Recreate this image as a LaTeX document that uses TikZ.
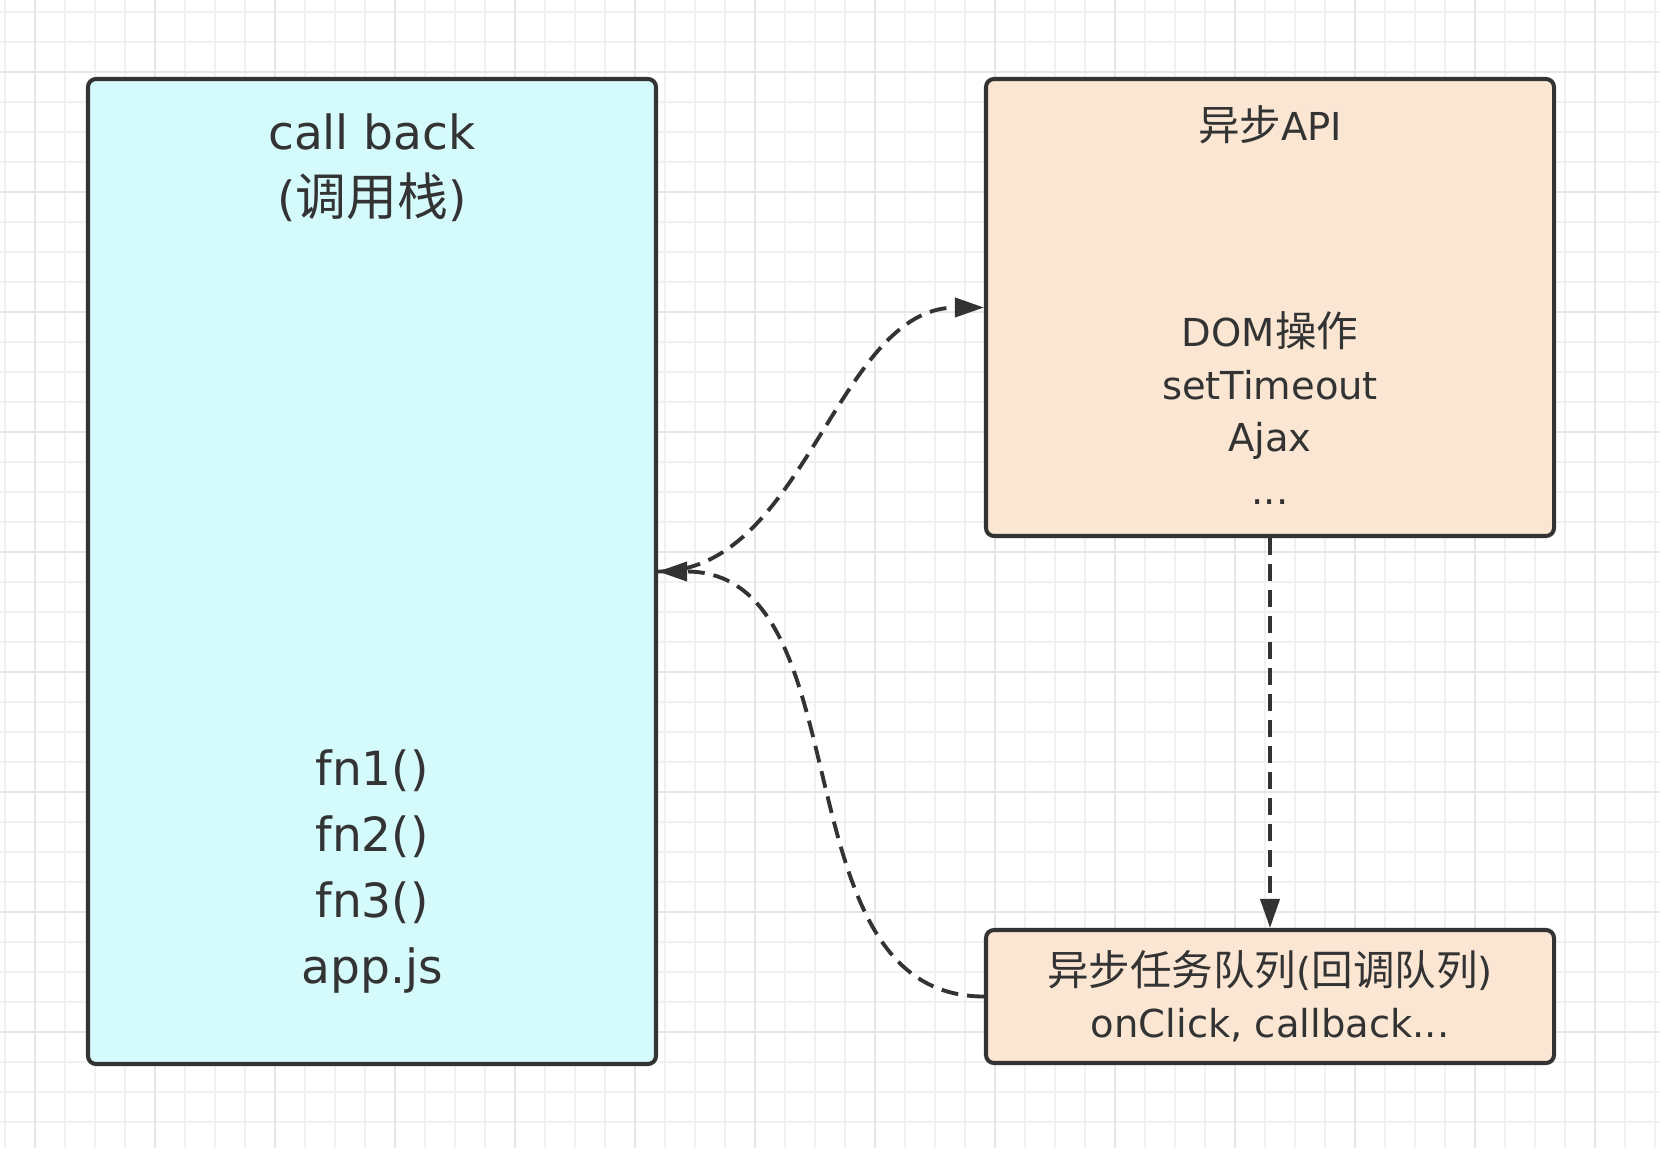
\documentclass[tikz,border=0pt]{standalone}
\usepackage{fontspec}
\setmainfont{DejaVu Sans}
\newfontfamily\cjk[Scale=1.08]{Noto Sans CJK SC}
\usetikzlibrary{arrows.meta}
\definecolor{ink}{HTML}{333333}
\definecolor{stackfill}{HTML}{D4FAFB}
\definecolor{apifill}{HTML}{FAE6D2}
\definecolor{gridminor}{HTML}{F1F1F1}
\definecolor{gridmajor}{HTML}{E6E6E6}

\begin{document}
\begin{tikzpicture}[
  box/.style={draw=ink,line width=1.15pt,rounded corners=0.08cm,minimum width=5.68cm,inner sep=0pt},
  big/.style={text=ink,align=center,font=\fontsize{13.4}{18.7}\selectfont},
  small/.style={text=ink,align=center,font=\fontsize{10.95}{14.9}\selectfont},
  flow/.style={draw=ink,line width=1.1pt,dash pattern=on 0.17cm off 0.09cm,-{Triangle[length=0.29cm,width=0.19cm]}}]
  \useasboundingbox (0,0) rectangle (16.6,11.48);
  \clip (0,0) rectangle (16.6,11.48);
  % background grid
  \draw[gridminor,line width=0.02cm,shift={(0.05,0.26)}] (-0.05,-0.26) grid[step=0.3] (16.55,11.22);
  \draw[gridmajor,line width=0.02cm,shift={(0.35,1.16)}] (-0.35,-1.16) grid[step=1.2] (16.25,10.32);
  % boxes
  \node[box,fill=stackfill,minimum height=9.85cm] (stack) at (3.72,5.765) {};
  \node[box,fill=apifill,minimum height=4.57cm] (api) at (12.70,8.405) {};
  \node[box,fill=apifill,minimum height=1.33cm,small] (queue) at (12.70,1.515)
    {{\cjk 异步任务队列}({\cjk 回调队列})\\onClick, callback...};
  % texts
  \node[big] (stacktitle) at (3.72,9.80) {call back\\({\cjk 调用栈})};
  \node[big] (stackfns) at (3.72,2.765) {fn1()\\fn2()\\fn3()\\app.js};
  \node[small] (apititle) at (12.70,10.23) {{\cjk 异步}API};
  \node[small] (apilist) at (12.70,7.40) {DOM{\cjk 操作}\\setTimeout\\Ajax\\...};
  % dashed flows
  \draw[flow] (stack.east) to[out=0,in=180,looseness=0.9] (api.west);
  \draw[flow] (api.south) -- (queue.north);
  \draw[flow] (queue.west) to[out=180,in=0] (stack.east);
\end{tikzpicture}
\end{document}
